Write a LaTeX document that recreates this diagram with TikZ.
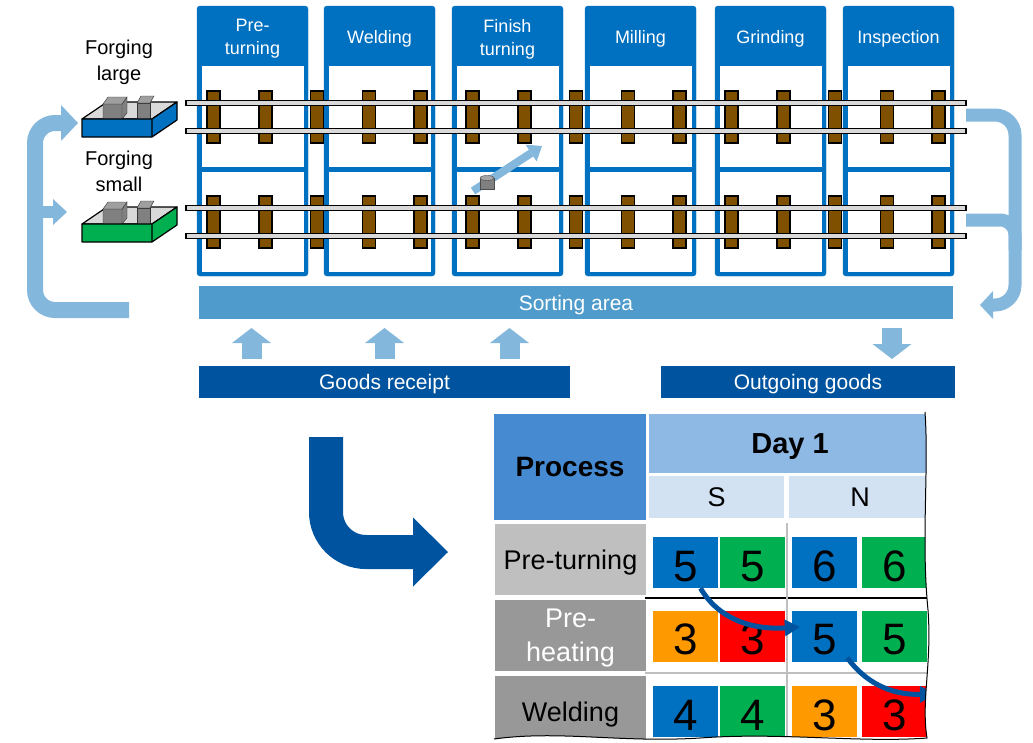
\documentclass[tikz,border=0pt]{standalone}
\usepackage{fontspec}
\setmainfont{Liberation Sans}
\usetikzlibrary{arrows.meta}

\definecolor{stblue}{RGB}{0,112,192}
\definecolor{sortblue}{RGB}{79,155,203}
\definecolor{flowblue}{RGB}{132,183,220}
\definecolor{darkblue}{RGB}{0,84,159}
\definecolor{tiebrown}{RGB}{127,80,0}
\definecolor{railgray}{RGB}{217,217,217}
\definecolor{headblue}{RGB}{70,139,210}
\definecolor{dayblue}{RGB}{142,185,228}
\definecolor{shiftblue}{RGB}{210,226,243}
\definecolor{lgray}{RGB}{191,191,191}
\definecolor{dgray}{RGB}{152,152,152}
\definecolor{cgreen}{RGB}{0,176,80}
\definecolor{corange}{RGB}{255,153,0}
\definecolor{cred}{RGB}{255,0,0}

\tikzstyle{station} = [fill=stblue, draw=stblue, rounded corners=3pt]
\tikzstyle{tie} = [draw=black, fill=tiebrown, line width=1.5pt]
\tikzstyle{rail} = [draw=black, fill=railgray, line width=1.5pt]
\tikzstyle{hdr} = [text=white, align=center, text depth=0pt, font=\fontsize{18}{23}\selectfont]
\tikzstyle{bar} = [text=white, inner sep=0pt, text depth=0pt, font=\fontsize{21}{21}\selectfont]
\tikzstyle{uparrow} = [draw=flowblue, line width=20pt, -{Triangle[width=39pt,length=15pt,line width=0pt]}]
\tikzstyle{backflow} = [draw=flowblue, rounded corners=20pt]
\tikzstyle{tbl} = [inner sep=0pt, align=center, text depth=0pt, font=\fontsize{27}{34}\selectfont]
\tikzstyle{tcell} = [inner sep=0pt, minimum width=65pt, minimum height=51pt, text height=37pt, text depth=0pt, font=\fontsize{44}{44}\selectfont]
\tikzstyle{shiftmove} = [draw=darkblue, line width=5pt, -{Triangle[width=17pt,length=15pt,line width=0pt]}]

\newcommand{\tornedge}{(925,412) .. controls (929,470) and (921,540) .. (928,610) .. controls (932,665) and (921,700) .. (927,738) .. controls (860,743) and (780,732) .. (700,738) .. controls (620,743) and (560,730) .. (494,739)}

\begin{document}
\begin{tikzpicture}[x=1pt, y=-1pt]
	\useasboundingbox (0,0) rectangle (1033,742);
	
	% stations
	\foreach \x/\lbl [count=\i] in {197/{Pre-\\turning}, 324/Welding, 452/{Finish\\turning}, 585/Milling, 715/Grinding, 843/Inspection}{
		\draw[station] (\x,6) rectangle ++(111,270);
		\fill[white] (\x+5,66) rectangle ++(102,101); \fill[white] (\x+5,172) rectangle ++(102,100); % bays
		\node[hdr] (st\i) at (\x+55.5,37) {\lbl};
	}
	
	% tracks
	\foreach \i in {0,...,14}{
		\draw[tie] (207+51.8*\i,91) rectangle ++(13,52);
		\draw[tie] (207+51.8*\i,196) rectangle ++(13,52);
	}
	\foreach \y in {103,131,208,236}
		\draw[rail] (186,\y-2.5) rectangle (966,\y+2.5);
	
	% trays with forgings
	\foreach \dy/\col in {0/stblue, 105/cgreen}{
		\begin{scope}[shift={(0,\dy)}]
			\draw[fill=railgray, line width=1.2pt, line join=round] (82,119) -- (107,102) -- (177,102) -- (152,119) -- cycle;
			\draw[fill=gray, draw=gray!40!black] (103,104) rectangle (122,119) (122,104) -- (127,97) -- (127,113) -- (122,119);
			\draw[fill=gray!75, draw=gray!40!black] (103,104) -- (108,97) -- (127,97) -- (122,104) -- cycle;
			\draw[fill=gray, draw=gray!40!black] (137,103) rectangle (150,119);
			\draw[fill=gray!75, draw=gray!40!black] (137,103) -- (141,96) -- (154,96) -- (150,103) -- cycle;
			\draw[fill=\col, line width=1.2pt, line join=round] (82,119) rectangle (152,137) (152,119) -- (177,102) -- (177,120) -- (152,137) -- cycle;
		\end{scope}
	}
	\node[align=center, font=\fontsize{20}{26}\selectfont] (large) at (119,62) {Forging\\large};
	\node[align=center, font=\fontsize{20}{26}\selectfont] (small) at (119,171) {Forging\\small};
	
	% return flows
	\draw[backflow, line width=16pt, -{Triangle[width=36pt,length=17pt,line width=0pt]}] (129,310) -- (35,310) -- (35,123) -- (78,123);
	\draw[backflow, line width=12pt, -{Triangle[width=26pt,length=14pt,line width=0pt]}] (35,212) -- (67,212);
	\draw[backflow, line width=13pt, -{Triangle[width=28pt,length=13pt,line width=0pt]}] (966,115) -- (1015,115) -- (1015,305) -- (980,305);
	\draw[backflow, line width=13pt, rounded corners=15pt] (966,220) -- (1015,220) -- (1015,250);
	
	% gantry move
	\draw[draw=flowblue, line width=8pt, -{Triangle[width=20pt,length=13pt,line width=0pt]}] (473,191) -- (542,146);
	\draw[fill=gray, draw=black!70] (480,178) rectangle (494,189);
	\draw[fill=gray!70, draw=black!70] (487,178) ellipse (7pt and 2.5pt);
	
	% sorting and goods
	\node[bar, fill=sortblue, minimum width=754pt, minimum height=33pt] (sort) at (576,302.5) {Sorting area};
	\node[bar, fill=darkblue, minimum width=371pt, minimum height=32pt] (receipt) at (384.5,382) {Goods receipt};
	\node[bar, fill=darkblue, minimum width=294pt, minimum height=32pt] (outgoing) at (808,382) {Outgoing goods};
	\foreach \x in {251.5,384.5,509.5}
		\draw[uparrow] (\x,359) -- (\x,328);
	\draw[uparrow] (892,328) -- (892,359);
	
	\draw[darkblue, line width=34pt, rounded corners=40pt, -{Triangle[width=69pt,length=35pt,line width=0pt]}] (326,437) -- (326,552) -- (448,552);
	
	% plan table
	\begin{scope}
		\clip (490,405) -- (925,405) -- \tornedge -- cycle;
		\node[tbl, fill=headblue, minimum width=152pt, minimum height=106pt, font=\bfseries\fontsize{28}{28}\selectfont] (proc) at (570,467) {Process};
		\node[tbl, fill=dayblue, minimum width=282pt, minimum height=59pt, font=\bfseries\fontsize{29}{29}\selectfont] (day) at (790,443.5) {Day 1};
		\node[tbl, fill=shiftblue, minimum width=135pt, minimum height=42pt] (shiftS) at (716.5,497) {S};
		\node[tbl, fill=shiftblue, minimum width=142pt, minimum height=42pt] (shiftN) at (860,497) {N};
		\node[tbl, fill=lgray, minimum width=151pt, minimum height=71pt] (rowA) at (570.5,559.5) {Pre-turning};
		\node[tbl, fill=dgray, text=white, minimum width=151pt, minimum height=71pt] (rowB) at (570.5,635.5) {Pre-\\heating};
		\node[tbl, fill=dgray, minimum width=151pt, minimum height=71pt] (rowC) at (570.5,711.5) {Welding};
		\draw[line width=1.5pt] (645,598) -- (935,598);
		\draw[lgray, line width=1.5pt] (645,673) -- (935,673) (787,523) -- (787,745);
		\foreach \x/\y/\col/\n [count=\k] in {685.5/562.5/stblue/5, 752.5/562.5/cgreen/5, 824.5/562.5/stblue/6, 894.5/562.5/cgreen/6,
			685.5/636/corange/3, 752.5/636/cred/3, 824.5/636/stblue/5, 894.5/636/cgreen/5,
			685.5/711.5/stblue/4, 752.5/711.5/cgreen/4, 824.5/711.5/corange/3, 894.5/711.5/cred/3}
			\node[tcell, fill=\col] (c\k) at (\x,\y) {\n};
		\coordinate (next) at (935,694);
		\draw[shiftmove] ([xshift=15pt]c1.south) .. controls (718,618) and (750,630) .. ([xshift=8pt,yshift=9pt]c7.west);
		\draw[shiftmove] ([xshift=-10pt,yshift=4pt]c7.south east) .. controls (865,682) and (890,695) .. (next);
	\end{scope}
	\draw[line width=1pt] \tornedge;
	
\end{tikzpicture}
\end{document}
